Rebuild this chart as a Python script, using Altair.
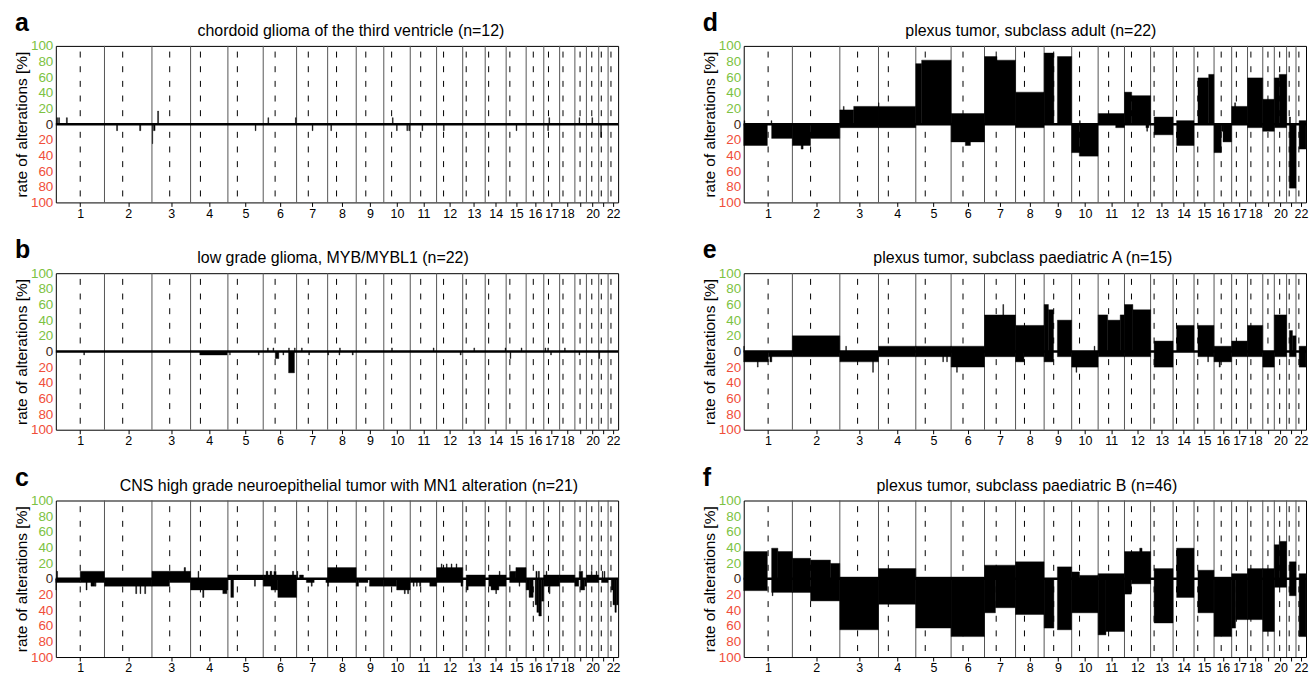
import json
import altair as alt
import pandas as pd

# hg19 chromosome lengths and centromere positions (Mb)
CHROM_LEN = [249.25, 243.2, 198.0, 191.15, 180.9, 171.1, 159.1, 146.4, 141.2, 135.5, 135.0,
             133.85, 115.2, 107.35, 102.5, 90.35, 81.2, 78.1, 59.1, 63.0, 48.1, 51.3]
CENTROMERE = [125.0, 93.3, 91.0, 50.4, 48.4, 61.0, 59.9, 45.6, 49.0, 40.2, 53.7,
              35.8, 17.9, 17.6, 19.0, 36.6, 24.0, 17.2, 26.5, 27.5, 13.2, 14.7]
TICK_LABELS = ["1", "2", "3", "4", "5", "6", "7", "8", "9", "10", "11",
               "12", "13", "14", "15", "16", "17", "18", "", "20", "", "22"]

GAIN_COLOR = "#7cc242"
LOSS_COLOR = "#f04e3a"
ZERO_COLOR = "#3d2614"

# Segments: (chromosome, start Mb, end Mb, rate %)
A_GAIN = [(1, 4, 9, 8.3), (1, 14, 19, 8.3), (1, 54, 59, 8.3), (3, 29, 34, 16.7), (6, 24, 28, 8.3),
          (6, 165, 169, 8.3), (10, 44, 48, 8.3), (17, 26, 30, 8.3), (19, 21, 25, 8.3), (20, 28, 32, 8.3)]
A_LOSS = [(2, 62, 67, 8.3), (2, 180, 186, 8.3), (3, 2, 4, 25.0), (3, 8, 16, 8.3), (5, 140, 144, 8.3),
          (7, 80, 84, 8.3), (8, 16, 20, 8.3), (10, 65, 69, 8.3), (10, 118, 122, 8.3), (10, 128, 133, 8.3),
          (11, 60, 64, 8.3), (12, 35, 39, 8.3), (15, 51, 55, 8.3), (17, 20, 24, 8.3), (21, 10, 14, 16.7)]

B_GAIN = [(6, 22, 26, 4.5), (6, 50, 54, 4.5), (6, 130, 134, 4.5), (6, 160, 164, 4.5), (7, 25, 29, 4.5),
          (8, 61, 65, 4.5), (10, 40, 44, 4.5), (11, 118, 122, 4.5), (13, 57, 61, 4.5), (14, 102, 106, 4.5),
          (15, 77, 81, 4.5), (17, 6, 10, 4.5), (17, 20, 24, 4.5), (18, 25, 29, 4.5)]
B_LOSS = [(1, 143, 147, 4.5), (4, 47, 187, 4.5), (5, 9, 12, 4.5), (5, 156, 160, 4.5), (6, 62, 80, 9.1),
          (6, 101, 105, 4.5), (6, 130, 160, 27.3), (7, 62, 66, 4.5), (8, 1, 5, 4.5), (8, 58, 62, 4.5),
          (8, 126, 131, 4.5), (12, 121, 126, 4.5), (15, 20, 24, 9.1), (17, 35, 39, 4.5), (19, 21, 25, 4.5),
          (21, 1, 5, 9.1)]

C_GAIN = [(1, 4, 9, 9.5), (1, 125, 249, 9.5), (3, 0, 198, 9.5), (3, 165, 172, 14.3), (4, 38, 42, 9.5),
          (5, 0, 181, 4.8), (6, 0, 171, 4.8), (6, 15, 24, 9.5), (6, 35, 44, 9.5), (6, 55, 66, 9.5),
          (6, 150, 156, 9.5), (7, 2, 6, 9.5), (7, 15, 35, 4.8), (8, 0, 146, 14.3), (12, 0, 134, 14.3),
          (12, 24, 28, 19.0), (12, 50, 54, 19.0), (12, 75, 79, 19.0), (12, 100, 104, 19.0), (13, 18, 115, 4.8),
          (14, 18, 107, 4.8), (14, 72, 76, 9.5), (15, 18, 50, 9.5), (15, 50, 102, 14.3), (16, 50, 56, 9.5),
          (16, 62, 68, 9.5), (17, 0, 81, 4.8), (17, 12, 16, 9.5), (18, 0, 78, 4.8), (19, 22, 40, 9.5),
          (20, 0, 63, 4.8), (20, 25, 29, 9.5), (20, 50, 54, 9.5), (21, 18, 22, 9.5), (21, 28, 32, 9.5)]
C_LOSS = [(1, 0, 125, 4.8), (1, 0, 3, 14.3), (1, 125, 249, 4.8), (1, 155, 160, 14.3), (1, 180, 200, 9.5),
          (1, 202, 206, 9.5), (2, 0, 243, 9.5), (2, 160, 165, 19.0), (2, 182, 186, 19.0), (2, 206, 211, 19.0),
          (3, 0, 90, 9.5), (3, 90, 198, 4.8), (4, 0, 191, 14.3), (4, 62, 68, 23.8), (4, 165, 186, 19.0),
          (5, 15, 29, 23.8), (5, 136, 141, 9.5), (6, 0, 40, 9.5), (6, 40, 75, 14.3), (6, 75, 171, 23.8),
          (7, 50, 90, 4.8), (7, 75, 80, 9.5), (7, 150, 159, 4.8), (8, 0, 146, 4.8), (8, 0, 5, 9.5),
          (9, 0, 12, 9.5), (9, 12, 60, 4.8), (9, 68, 141, 9.5), (10, 0, 66, 9.5), (10, 66, 135, 14.3),
          (10, 105, 110, 19.0), (10, 122, 127, 19.0), (11, 0, 135, 4.8), (11, 15, 20, 9.5), (11, 32, 36, 9.5),
          (11, 48, 54, 9.5), (11, 100, 135, 9.5), (12, 0, 134, 4.8), (12, 125, 134, 9.5), (13, 18, 115, 9.5),
          (13, 20, 28, 14.3), (14, 18, 107, 9.5), (14, 30, 70, 14.3), (14, 54, 58, 19.0), (15, 18, 102, 4.8),
          (15, 66, 70, 9.5), (16, 0, 15, 14.3), (16, 15, 36, 23.8), (16, 46, 55, 33.3), (16, 55, 65, 42.9),
          (16, 65, 78, 47.6), (16, 78, 90, 28.6), (17, 0, 81, 9.5), (17, 28, 32, 19.0), (18, 0, 78, 4.8),
          (19, 0, 20, 9.5), (19, 28, 50, 14.3), (19, 50, 59, 9.5), (20, 0, 63, 4.8), (21, 14, 48, 4.8),
          (22, 16, 25, 14.3), (22, 25, 35, 33.3), (22, 35, 42, 42.9), (22, 42, 51, 33.3)]

D_GAIN = [(1, 2, 6, 4.5), (1, 140, 144, 4.5), (3, 0, 71, 18.2), (3, 71, 198, 22.7), (3, 18, 22, 22.7),
          (4, 0, 191, 22.7), (4, 0, 3, 27.3), (5, 0, 30, 77.3), (5, 30, 181, 81.8), (6, 0, 171, 13.6),
          (7, 0, 64, 86.4), (7, 64, 159, 81.8), (8, 0, 146, 40.9), (9, 0, 50, 90.9), (9, 68, 141, 86.4),
          (10, 40, 44, 4.5), (11, 0, 135, 13.6), (12, 0, 37, 40.9), (12, 37, 134, 36.4), (13, 18, 115, 9.1),
          (14, 18, 107, 4.5), (15, 20, 75, 59.1), (15, 75, 102, 63.6), (17, 0, 81, 22.7), (17, 15, 20, 27.3),
          (18, 0, 78, 59.1), (19, 0, 59, 31.8), (20, 0, 25, 59.1), (20, 25, 63, 63.6), (21, 14, 20, 9.1),
          (22, 16, 51, 4.5)]
D_LOSS = [(1, 0, 121, 27.3), (1, 143, 249, 18.2), (2, 0, 93, 27.3), (2, 45, 55, 31.8), (2, 93, 243, 18.2),
          (3, 0, 198, 4.5), (4, 0, 191, 4.5), (6, 0, 171, 22.7), (6, 73, 99, 27.3), (8, 0, 146, 4.5),
          (10, 0, 39, 36.4), (10, 39, 135, 40.9), (11, 90, 135, 4.5), (12, 110, 125, 4.5), (12, 114, 118, 9.1),
          (13, 18, 115, 13.6), (14, 18, 107, 27.3), (16, 0, 37, 36.4), (16, 37, 46, 9.1), (16, 46, 90, 22.7),
          (18, 0, 78, 4.5), (19, 0, 59, 9.1), (20, 0, 63, 4.5), (21, 14, 48, 81.8), (22, 16, 51, 31.8)]

E_GAIN = [(1, 0, 3, 6.7), (2, 0, 243, 20.0), (3, 30, 34, 6.7), (4, 0, 191, 6.7), (5, 0, 181, 6.7),
          (6, 0, 171, 6.7), (7, 0, 159, 46.7), (7, 94, 98, 60.0), (8, 0, 146, 33.3), (9, 0, 22, 60.0),
          (9, 22, 48, 53.3), (9, 68, 141, 40.0), (10, 115, 119, 6.7), (11, 0, 49, 46.7), (11, 49, 113, 40.0),
          (11, 113, 135, 46.7), (12, 0, 43, 60.0), (12, 43, 134, 53.3), (13, 18, 115, 13.3), (14, 18, 107, 33.3),
          (15, 20, 102, 33.3), (16, 0, 90, 6.7), (17, 0, 81, 13.3), (18, 0, 78, 33.3), (20, 0, 63, 46.7),
          (21, 14, 30, 26.7), (21, 30, 48, 20.0), (22, 16, 51, 6.7)]
E_LOSS = [(1, 0, 126, 13.3), (1, 70, 74, 20.0), (1, 126, 249, 6.7), (1, 134, 144, 13.3), (2, 0, 243, 6.7),
          (3, 0, 198, 13.3), (3, 168, 172, 26.7), (4, 0, 191, 6.7), (5, 0, 181, 6.7), (5, 138, 142, 13.3),
          (5, 158, 162, 13.3), (6, 0, 171, 20.0), (6, 28, 32, 26.7), (7, 0, 159, 6.7), (8, 0, 43, 13.3),
          (8, 43, 146, 6.7), (9, 0, 48, 13.3), (9, 68, 141, 6.7), (10, 0, 135, 20.0), (10, 22, 26, 26.7),
          (11, 0, 135, 6.7), (12, 0, 134, 6.7), (13, 18, 115, 20.0), (15, 20, 102, 6.7), (15, 70, 74, 13.3),
          (16, 0, 90, 13.3), (16, 26, 32, 20.0), (17, 0, 81, 6.7), (18, 0, 78, 6.7), (19, 0, 59, 20.0),
          (20, 0, 63, 6.7), (21, 14, 48, 6.7), (22, 16, 51, 20.0)]

F_GAIN = [(1, 0, 121, 34.8), (1, 143, 175, 39.1), (1, 175, 249, 34.8), (2, 0, 93, 26.1), (2, 93, 195, 23.9),
          (2, 195, 243, 19.6), (3, 0, 198, 2.2), (4, 0, 191, 13.0), (5, 0, 181, 2.2), (6, 0, 171, 2.2),
          (7, 0, 159, 17.4), (8, 0, 146, 21.7), (9, 68, 141, 15.2), (10, 0, 40, 8.7), (10, 40, 135, 4.3),
          (11, 0, 135, 6.5), (12, 0, 134, 34.8), (12, 78, 90, 39.1), (13, 18, 115, 13.0), (14, 18, 107, 39.1),
          (15, 20, 102, 10.9), (16, 0, 90, 2.2), (17, 0, 81, 6.5), (18, 0, 78, 13.0), (19, 0, 59, 13.0),
          (20, 0, 25, 43.5), (20, 25, 63, 47.8), (21, 14, 48, 21.7), (22, 16, 51, 6.5)]
F_LOSS = [(1, 0, 121, 15.2), (1, 143, 249, 17.4), (1, 146, 150, 21.7), (2, 0, 93, 17.4), (2, 93, 243, 28.3),
          (3, 0, 198, 65.2), (4, 0, 191, 32.6), (5, 0, 181, 63.0), (6, 0, 171, 73.9), (7, 0, 56, 43.5),
          (7, 56, 159, 37.0), (8, 0, 146, 45.7), (9, 0, 50, 63.0), (9, 68, 141, 65.2), (10, 0, 135, 43.5),
          (11, 0, 40, 71.7), (11, 40, 135, 67.4), (12, 0, 35, 19.6), (12, 35, 134, 6.5), (13, 18, 115, 56.5),
          (14, 18, 107, 23.9), (15, 20, 102, 43.5), (16, 0, 90, 73.9), (17, 0, 20, 63.0), (17, 20, 81, 52.2),
          (18, 0, 78, 52.2), (19, 0, 59, 67.4), (20, 0, 63, 10.9), (21, 14, 48, 21.7), (22, 16, 51, 73.9)]

# genome-wide coordinates
OFFSETS = [0.0]
for length in CHROM_LEN:
    OFFSETS.append(OFFSETS[-1] + length)
GENOME = OFFSETS[-1]
CENTERS = [round(OFFSETS[i] + CHROM_LEN[i] / 2, 2) for i in range(22)]

bounds_df = pd.DataFrame({"pos": OFFSETS[1:-1]})
cen_df = pd.DataFrame({"pos": [OFFSETS[i] + CENTROMERE[i] for i in range(22)]})

X_SCALE = alt.Scale(domain=[0, GENOME], nice=False, zero=False)
Y_SCALE = alt.Scale(domain=[-100, 100], nice=False)

PANEL_W = 564
PANEL_H = 157


def segments(gain, loss):
    rows = []
    for c, s, e, v in gain:
        rows.append({"x0": OFFSETS[c - 1] + s, "x1": OFFSETS[c - 1] + e, "rate": v})
    for c, s, e, v in loss:
        rows.append({"x0": OFFSETS[c - 1] + s, "x1": OFFSETS[c - 1] + e, "rate": -v})
    return pd.DataFrame(rows)


label_expr = f"{json.dumps(TICK_LABELS)}[indexof({json.dumps(CENTERS)}, datum.value)]"

X_AXIS = alt.Axis(values=CENTERS, labelExpr=label_expr, title=None, grid=False, domain=False,
                  tickSize=4, tickColor="black", labelFontSize=12.5, labelPadding=1,
                  labelColor="black", labelOverlap=False, labelFlush=False, labelBound=False)

Y_AXIS = alt.Axis(values=list(range(-100, 101, 20)), labelExpr="abs(datum.value)",
                  labelColor={"condition": [{"test": "datum.value > 0", "value": GAIN_COLOR},
                                            {"test": "datum.value < 0", "value": LOSS_COLOR}],
                              "value": ZERO_COLOR},
                  ticks=False, domain=False, grid=False, labelFontSize=13.5, labelPadding=3,
                  title="rate of alterations [%]", titleFontSize=15.5, titleFontWeight="normal",
                  titleColor="black", titlePadding=1)


def xpos(field):
    return alt.X(field, scale=X_SCALE, axis=X_AXIS)


def ypos(value):
    return alt.YDatum(value, scale=Y_SCALE, axis=Y_AXIS)


def panel(letter, title, gain, loss, dx=0):
    chrom_edges = alt.Chart(bounds_df).mark_rule(color="#555555", strokeWidth=1).encode(
        x=xpos("pos:Q"), y=ypos(100), y2=alt.datum(-100))
    bars = alt.Chart(segments(gain, loss)).mark_rect(color="black", stroke="black", strokeWidth=0.4).encode(
        x=xpos("x0:Q"),
        x2="x1:Q",
        y=alt.Y("rate:Q", scale=Y_SCALE, axis=Y_AXIS),
        y2=alt.datum(0))
    dash_top = alt.Chart(cen_df).mark_rule(color="black", strokeWidth=1, strokeDash=[6, 8.7],
                                           strokeDashOffset=9).encode(
        x=xpos("pos:Q"), y=ypos(100), y2=alt.datum(0))
    dash_bottom = alt.Chart(cen_df).mark_rule(color="black", strokeWidth=1, strokeDash=[6, 8.7],
                                              strokeDashOffset=7).encode(
        x=xpos("pos:Q"), y=ypos(0), y2=alt.datum(-100))
    zero = alt.Chart(pd.DataFrame({"x0": [0.0], "x1": [GENOME]})).mark_rule(
        color="black", strokeWidth=2.5).encode(x=xpos("x0:Q"), x2="x1:Q", y=ypos(0))
    text_df = pd.DataFrame({"t": [letter], "title": [title]})
    tag = alt.Chart(text_df).mark_text(
        fontSize=25, fontWeight="bold", align="left", baseline="alphabetic", color="black").encode(
        text="t:N", x=alt.value(-41), y=alt.value(-15))
    heading = alt.Chart(text_df).mark_text(
        fontSize=16, align="center", baseline="alphabetic", color="black").encode(
        text="title:N", x=alt.value(PANEL_W / 2 + dx), y=alt.value(-10))
    return alt.layer(chrom_edges, bars, dash_top, dash_bottom, zero, tag, heading).properties(
        width=PANEL_W, height=PANEL_H)


pa = panel("a", "chordoid glioma of the third ventricle (n=12)", A_GAIN, A_LOSS, dx=14)
pb = panel("b", "low grade glioma, MYB/MYBL1 (n=22)", B_GAIN, B_LOSS, dx=-4)
pc = panel("c", "CNS high grade neuroepithelial tumor with MN1 alteration (n=21)", C_GAIN, C_LOSS, dx=12)
pd_ = panel("d", "plexus tumor, subclass adult (n=22)", D_GAIN, D_LOSS, dx=6)
pe = panel("e", "plexus tumor, subclass paediatric A (n=15)", E_GAIN, E_LOSS, dx=-2)
pf = panel("f", "plexus tumor, subclass paediatric B (n=46)", F_GAIN, F_LOSS, dx=2)

chart = alt.vconcat(
    alt.hconcat(pa, pd_, spacing=80),
    alt.hconcat(pb, pe, spacing=80),
    alt.hconcat(pc, pf, spacing=80),
    spacing=17,
).configure(
    font="Liberation Sans",
    padding={"left": 13, "top": 9, "right": 0, "bottom": 0},
).configure_view(stroke="black", strokeWidth=1)

chart.save("out.html", embed_options={"renderer": "svg", "actions": False})
